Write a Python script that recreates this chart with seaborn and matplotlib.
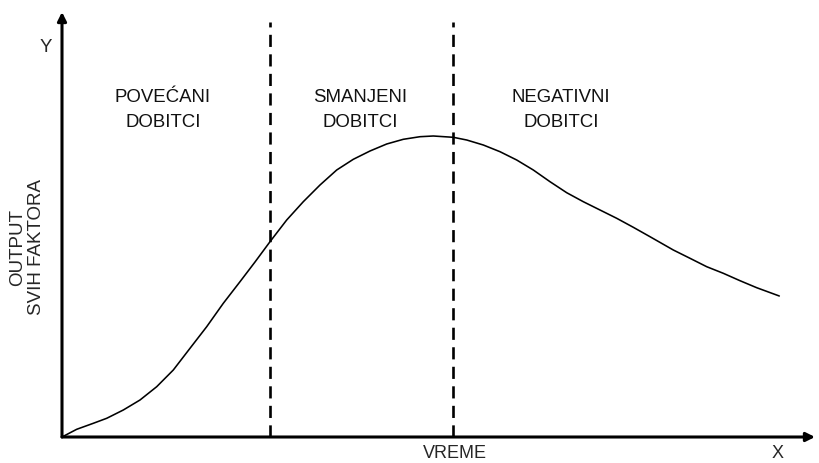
import matplotlib
matplotlib.use("Agg")
import matplotlib.pyplot as plt
import seaborn as sns
import pandas as pd

sns.set_theme(style="white")
plt.rcParams['font.family'] = ['Liberation Sans', 'DejaVu Sans']

# Data (time vs total factor output), in arbitrary units
vreme = [0, 14.7, 31.3, 44.7, 61.3, 78, 94.7, 111.3, 128, 144.7, 161.3, 178, 193,
         208, 224.7, 241.3, 258, 274.7, 291.3, 308, 324.7, 341.3, 358, 371.3,
         391.3, 404.7, 421.3, 438, 454.7, 471.3, 488, 504.7, 521.3, 538, 554.7,
         571.3, 588, 611.3, 628, 644.7, 661.3, 678, 694.7, 717.3]
output = [0, 7.7, 13.7, 18.7, 27, 37, 50.3, 67, 88.7, 110.3, 133.7, 155.3, 175,
          195.3, 217, 235.3, 252, 267, 277.7, 286, 293, 297.7, 300.3, 301,
          299.7, 297, 292, 285.3, 277, 267, 255.3, 244.3, 235.3, 227, 218.7,
          209.7, 200.3, 187, 178.7, 170.3, 163.7, 156.3, 149.3, 141]
granice = [208, 391]
oblasti = ["POVEĆANI\nDOBITCI", "SMANJENI\nDOBITCI", "NEGATIVNI\nDOBITCI"]
oblasti_x = [101, 298, 499]

df = pd.DataFrame({"vreme": vreme, "output": output})

W, H = 819, 463
fig = plt.figure(figsize=(W / 100, H / 100), dpi=100)
x0, y0 = 62, 437
x1, y1 = 815, 12
ax = fig.add_axes([x0 / W, (H - y0) / H, (x1 - x0) / W, (y0 - y1) / H])
ax.set_xlim(0, x1 - x0)
ax.set_ylim(0, y0 - y1)
for s in ax.spines.values():
    s.set_visible(False)
ax.set_xticks([])
ax.set_yticks([])
ax.set_facecolor("white")

sns.lineplot(data=df, x="vreme", y="output", ax=ax, color="black", lw=1.15, sort=False)
ax.set_xlabel("")
ax.set_ylabel("")

for g in granice:
    ax.plot([g, g], [0, 415], color="black", lw=1.9, dashes=(4.6, 2.8), clip_on=False)

for t, xx in zip(oblasti, oblasti_x):
    ax.text(xx, 327, t, ha="center", va="center", fontsize=13.4, linespacing=1.6, color="#111111")

# axes with arrows
ax.annotate("", xy=(1, 0), xytext=(0, 0), xycoords="axes fraction",
            arrowprops=dict(arrowstyle="-|>", lw=2.2, color="black", mutation_scale=13,
                            shrinkA=0, shrinkB=0))
ax.annotate("", xy=(0, 1), xytext=(0, 0), xycoords="axes fraction",
            arrowprops=dict(arrowstyle="-|>", lw=2.2, color="black", mutation_scale=13,
                            shrinkA=0, shrinkB=0))

fig.text(46 / W, 1 - 48 / H, "Y", ha="center", va="center", fontsize=13.4)
fig.text(778 / W, 1 - 454 / H, "X", ha="center", va="center", fontsize=13)
fig.text(455 / W, 1 - 454 / H, "VREME", ha="center", va="center", fontsize=13)
fig.text(27 / W, 1 - 247 / H, "OUTPUT\nSVIH FAKTORA", ha="center", va="center",
         rotation=90, fontsize=13.5, linespacing=1.15)

fig.savefig("out.png", dpi=100, facecolor="white")
